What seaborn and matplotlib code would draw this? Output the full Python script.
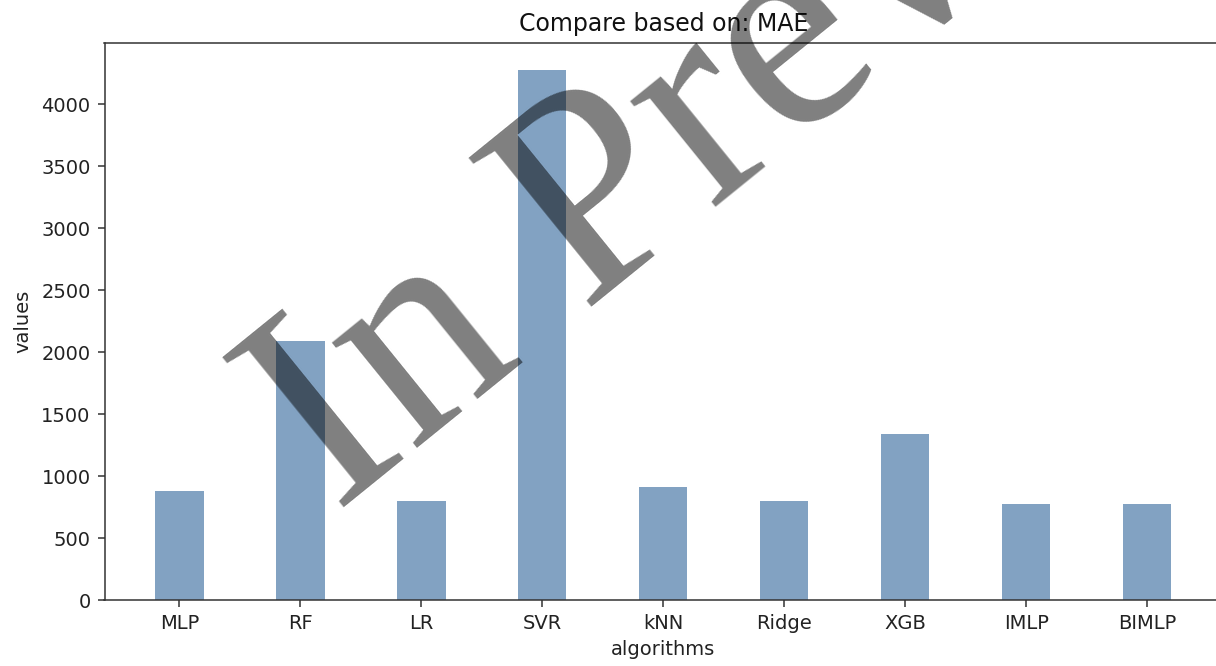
import matplotlib
matplotlib.use("Agg")
import matplotlib.pyplot as plt
import seaborn as sns
import pandas as pd

algorithms = ["MLP", "RF", "LR", "SVR", "kNN", "Ridge", "XGB", "IMLP", "BIMLP"]
mae_values = [880, 2090, 800, 4280, 915, 800, 1340, 775, 775]
title_text = "Compare based on: MAE"
watermark_text = "In Preview"

df = pd.DataFrame({"algorithms": algorithms, "values": mae_values})

sns.set_theme(style="ticks")
plt.rcParams["font.family"] = ["DejaVu Sans"]

fig = plt.figure(figsize=(12.16, 6.66), dpi=100)
ax = fig.add_axes([104.5 / 1216, 1 - 600 / 666, (1222 - 104.5) / 1216, (600 - 43) / 666])

sns.barplot(data=df, x="algorithms", y="values", color="#82A2C2", saturation=1,
            width=0.4, ax=ax, edgecolor="none")
ax.set_xlim(-0.62, len(algorithms) - 1 + 0.62)
ax.set_ylim(0, max(mae_values) * 1.05)

for side in ["top", "right", "left", "bottom"]:
    ax.spines[side].set_visible(True)
    ax.spines[side].set_linewidth(1.1)
    ax.spines[side].set_color("#333333")

ax.tick_params(axis="both", labelsize=14, length=5, width=1.1, pad=5,
               colors="#333333", labelcolor="#222222")
ax.set_xlabel("algorithms", fontsize=14, color="#222222", labelpad=5)
ax.set_ylabel("values", fontsize=14, color="#222222", labelpad=6)
ax.set_title(title_text, fontsize=17, color="#111111", pad=8.5)

fig.text(336 / 1216, 1 - 514 / 666, watermark_text, rotation=39, rotation_mode="anchor",
         ha="left", va="baseline", fontsize=212, family="Liberation Serif",
         color="black", alpha=0.5, zorder=10)

fig.savefig("out.png", dpi=100)
